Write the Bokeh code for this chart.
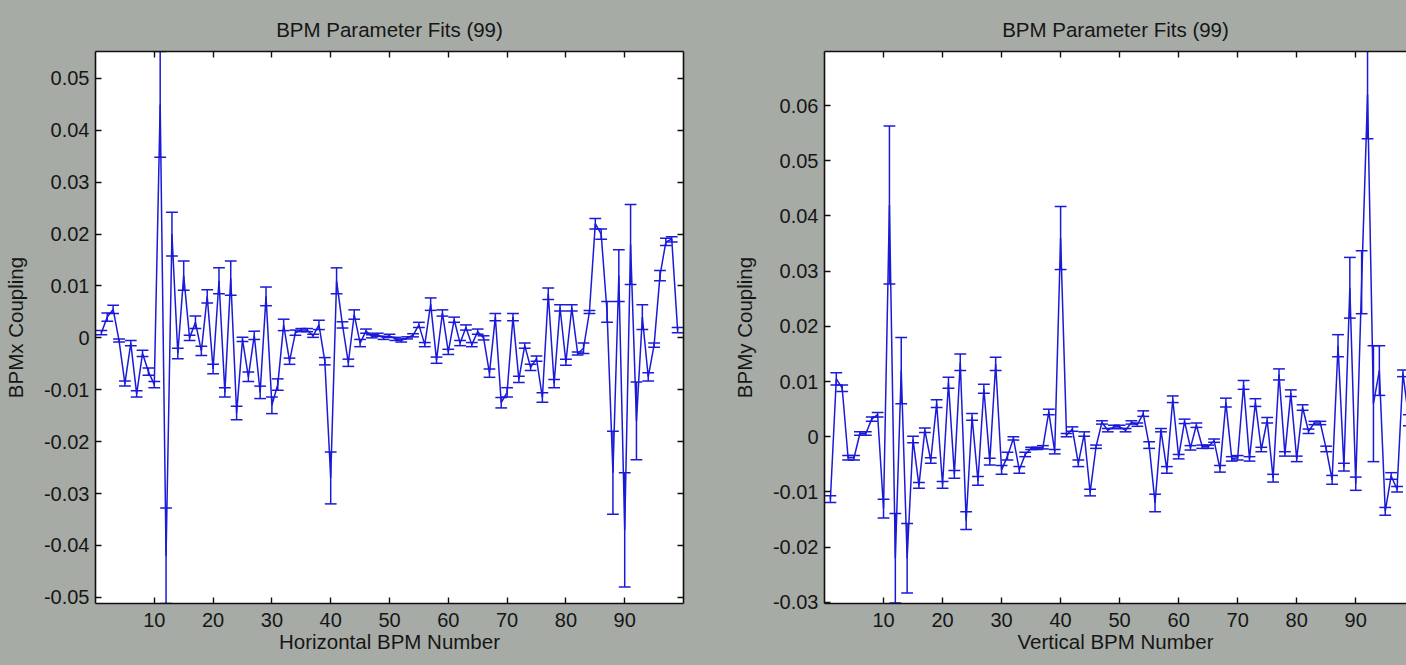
from bokeh.plotting import figure
from bokeh.layouts import row
from bokeh.models import LinearAxis, FixedTicker, Range1d, Grid
from bokeh.embed import file_html
from bokeh.resources import INLINE

# ---------------- data ----------------
bpm_index = list(range(1, 100))

horizontal_coupling = [
    0.001, 0.004, 0.0055, -0.0005, -0.0088, -0.001, -0.0108, -0.003, -0.0065, -0.009,
    0.045, -0.042, 0.020, -0.003, 0.012, 0.0, 0.003, -0.0025, 0.008, -0.006,
    0.011, -0.0105, 0.0115, -0.0145, -0.0003, -0.0075, 0.0005, -0.0105, 0.008, -0.013,
    -0.009, 0.0025, -0.0045, 0.001, 0.0015, 0.0015, 0.0004, 0.0025, -0.0045, -0.027,
    0.011, 0.0025, -0.0048, 0.0045, -0.001, 0.0013, 0.0003, 0.0006, 0.0, 0.0004,
    -0.0002, -0.0005, 0.0, 0.0005, 0.0025, -0.0013, 0.0065, -0.0043, 0.0048, -0.0027,
    0.0035, -0.001, 0.002, -0.0013, 0.0012, 0.0, -0.0068, 0.004, -0.0125, -0.0105,
    0.004, -0.008, -0.0015, -0.0057, -0.004, -0.0115, 0.0085, -0.0088, 0.0058, -0.0047,
    0.0058, -0.003, -0.002, 0.005, 0.022, 0.020, 0.005, -0.026, 0.012, -0.037,
    0.018, -0.016, 0.004, -0.0075, -0.0014, 0.012, 0.0185, 0.019, 0.0015,
]
horizontal_error = [
    0.0004, 0.0008, 0.0008, 0.0003, 0.0005, 0.0005, 0.0006, 0.0006, 0.0007, 0.0006,
    0.0102, 0.0092, 0.0042, 0.001, 0.0028, 0.0005, 0.0012, 0.0009, 0.0013, 0.0009,
    0.0025, 0.0009, 0.0033, 0.0013, 0.0004, 0.0009, 0.0008, 0.0012, 0.0018, 0.0016,
    0.0011, 0.0011, 0.0006, 0.0005, 0.0003, 0.0003, 0.0003, 0.0009, 0.0007, 0.005,
    0.0025, 0.0006, 0.0007, 0.0009, 0.0007, 0.0004, 0.0003, 0.0003, 0.0003, 0.0003,
    0.0003, 0.0003, 0.0002, 0.0003, 0.0005, 0.0004, 0.0012, 0.0006, 0.0006, 0.0005,
    0.0005, 0.0005, 0.0005, 0.0004, 0.0005, 0.0004, 0.0008, 0.0007, 0.001, 0.0009,
    0.0007, 0.0006, 0.0005, 0.0006, 0.0005, 0.0009, 0.0011, 0.0008, 0.0006, 0.0006,
    0.0006, 0.0003, 0.001, 0.0003, 0.001, 0.001, 0.002, 0.008, 0.005, 0.011,
    0.0077, 0.0075, 0.0024, 0.0008, 0.0004, 0.001, 0.0007, 0.0005, 0.0005,
]

vertical_coupling = [
    -0.0113, 0.0105, 0.0088, -0.0038, -0.0038, 0.0006, 0.0006, 0.0032, 0.004, -0.013,
    0.042, -0.022, 0.012, -0.022, -0.0005, -0.0088, 0.0012, -0.0043, 0.006, -0.0087,
    0.0098, -0.0068, 0.0135, -0.0152, 0.0036, -0.008, 0.0087, -0.0045, 0.0132, -0.006,
    -0.0035, -0.0003, -0.006, -0.0032, -0.0021, -0.0021, -0.0019, 0.0045, -0.0027, 0.036,
    0.0003, 0.0014, -0.0048, 0.0005, -0.0101, -0.0018, 0.0026, 0.0012, 0.0018, 0.0018,
    0.0012, 0.0026, 0.0022, 0.0042, -0.0015, -0.012, 0.0012, -0.006, 0.0068, -0.0036,
    0.0028, -0.002, 0.0021, -0.0018, -0.0018, -0.0007, -0.0058, 0.0062, -0.004, -0.0038,
    0.0094, -0.004, 0.0062, -0.0023, 0.003, -0.0075, 0.0113, -0.0031, 0.0079, -0.004,
    0.0053, 0.001, 0.0025, 0.0025, -0.0022, -0.0078, 0.0165, -0.0055, 0.027, -0.0085,
    0.028, 0.062, 0.006, 0.012, -0.0135, -0.0071, -0.0095, 0.0115, 0.003,
]
vertical_error = [
    0.0006, 0.0011, 0.0006, 0.0004, 0.0004, 0.0003, 0.0003, 0.0004, 0.0004, 0.0017,
    0.0143, 0.0081, 0.006, 0.0063, 0.0006, 0.0005, 0.0004, 0.0005, 0.0007, 0.0006,
    0.001, 0.0007, 0.0015, 0.0016, 0.0006, 0.0008, 0.0008, 0.0006, 0.0012, 0.0008,
    0.0007, 0.0003, 0.0006, 0.0004, 0.0002, 0.0002, 0.0003, 0.0005, 0.0004, 0.0057,
    0.0003, 0.0004, 0.0006, 0.0004, 0.0006, 0.0003, 0.0003, 0.0003, 0.0003, 0.0003,
    0.0003, 0.0003, 0.0003, 0.0005, 0.0006, 0.0016, 0.0003, 0.0006, 0.0006, 0.0004,
    0.0004, 0.0004, 0.0004, 0.0003, 0.0003, 0.0003, 0.0006, 0.0008, 0.0004, 0.0004,
    0.0008, 0.0004, 0.0007, 0.0004, 0.0005, 0.0007, 0.001, 0.0004, 0.0006, 0.0005,
    0.0005, 0.0004, 0.0003, 0.0003, 0.0005, 0.0008, 0.002, 0.0007, 0.0055, 0.0012,
    0.0057, 0.008, 0.0105, 0.0045, 0.0007, 0.0006, 0.0005, 0.0006, 0.001,
]

x_ticks = [10, 20, 30, 40, 50, 60, 70, 80, 90]
x_tick_labels = ["10", "20", "30", "40", "50", "60", "70", "80", "90"]
left_y_ticks = [-0.05, -0.04, -0.03, -0.02, -0.01, 0.0, 0.01, 0.02, 0.03, 0.04, 0.05]
left_y_tick_labels = ["-0.05", "-0.04", "-0.03", "-0.02", "-0.01", "0",
                      "0.01", "0.02", "0.03", "0.04", "0.05"]
right_y_ticks = [-0.03, -0.02, -0.01, 0.0, 0.01, 0.02, 0.03, 0.04, 0.05, 0.06]
right_y_tick_labels = ["-0.03", "-0.02", "-0.01", "0", "0.01", "0.02",
                       "0.03", "0.04", "0.05", "0.06"]

# ---------------- style ----------------
BG = "#a7aba6"
TXT = "#161616"
BLUE = "#1a1ad8"
FONT = "Liberation Sans"
CAP = 1.0


def style_axis(ax, labels=True):
    ax.axis_line_color = "#101010"
    ax.axis_line_width = 1.6
    ax.major_tick_line_color = "#101010"
    ax.major_tick_line_width = 1.4
    ax.major_tick_in = 6
    ax.major_tick_out = 0
    ax.minor_tick_line_color = None
    if labels:
        ax.major_label_text_font = FONT
        ax.major_label_text_font_size = "20px"
        ax.major_label_text_color = TXT
        ax.axis_label_text_font = FONT
        ax.axis_label_text_font_size = "20.5px"
        ax.axis_label_text_font_style = "normal"
        ax.axis_label_text_color = TXT
    else:
        ax.major_label_text_font_size = "0px"
        ax.major_label_text_color = None


def panel(xs, ys, es, ylims, x_end, yticks, ylabels, xlabel, ylabel,
          mb_left, mb_right, with_right_axis):
    p = figure(width=703, height=665, output_backend="svg", toolbar_location=None,
               x_range=Range1d(0, x_end), y_range=Range1d(ylims[0], ylims[1]),
               x_axis_location=None, y_axis_location=None,
               min_border_left=mb_left, min_border_right=mb_right,
               min_border_top=51, min_border_bottom=62,
               background_fill_color="white", border_fill_color=BG,
               outline_line_color=None)
    for g in p.select(type=Grid):
        g.visible = False

    p.title.text = "BPM Parameter Fits (99)"
    p.title.align = "center"
    p.title.text_font = FONT
    p.title.text_font_size = "20.5px"
    p.title.text_font_style = "normal"
    p.title.text_color = TXT
    p.title.standoff = 22

    left = LinearAxis(ticker=FixedTicker(ticks=yticks),
                      major_label_overrides={t: l for t, l in zip(yticks, ylabels)},
                      axis_label=ylabel)
    style_axis(left)
    left.major_label_standoff = 6
    left.axis_label_standoff = 14
    p.add_layout(left, "left")

    below = LinearAxis(ticker=FixedTicker(ticks=x_ticks),
                       major_label_overrides={t: l for t, l in zip(x_ticks, x_tick_labels)},
                       axis_label=xlabel)
    style_axis(below)
    below.major_label_standoff = 9
    below.axis_label_standoff = 0
    p.add_layout(below, "below")

    above = LinearAxis(ticker=FixedTicker(ticks=x_ticks))
    style_axis(above, labels=False)
    above.major_label_standoff = 0
    p.add_layout(above, "above")

    if with_right_axis:
        right = LinearAxis(ticker=FixedTicker(ticks=yticks))
        style_axis(right, labels=False)
        right.major_label_standoff = 0
        p.add_layout(right, "right")

    lo = [y - e for y, e in zip(ys, es)]
    hi = [y + e for y, e in zip(ys, es)]
    xl = [x - CAP for x in xs]
    xr = [x + CAP for x in xs]
    p.segment(x0=xs, y0=lo, x1=xs, y1=hi, line_color=BLUE, line_width=1.5)
    p.segment(x0=xl, y0=hi, x1=xr, y1=hi, line_color=BLUE, line_width=1.5)
    p.segment(x0=xl, y0=lo, x1=xr, y1=lo, line_color=BLUE, line_width=1.5)
    p.line(xs, ys, line_color=BLUE, line_width=1.5)
    return p


p1 = panel(bpm_index, horizontal_coupling, horizontal_error, (-0.0512, 0.0552), 100,
           left_y_ticks, left_y_tick_labels, "Horizontal BPM Number", "BPMx Coupling",
           93, 20, True)
p2 = panel(bpm_index, vertical_coupling, vertical_error, (-0.0302, 0.0698), 98.6,
           right_y_ticks, right_y_tick_labels, "Vertical BPM Number", "BPMy Coupling",
           121, 0, False)

layout = row(p1, p2, spacing=0, styles={"background-color": BG})
open("out.html", "w").write(file_html(layout, INLINE))
